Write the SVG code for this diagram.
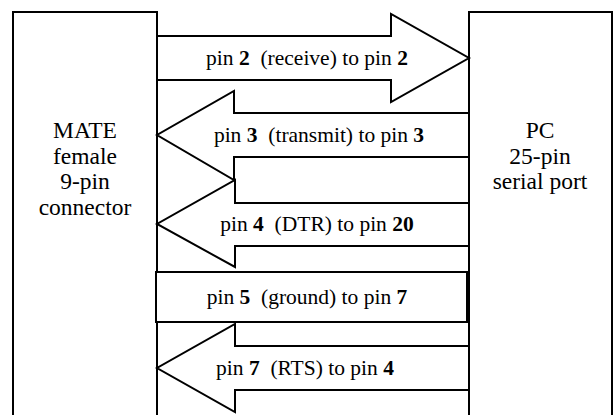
<svg xmlns="http://www.w3.org/2000/svg" width="613" height="415" viewBox="0 0 613 415">
<style>
.box{fill:#fff;stroke:#000;stroke-width:2}
.arr{fill:#fff;stroke:#000;stroke-width:2;stroke-linejoin:miter}
text{fill:#000;text-anchor:middle;font-family:'Liberation Serif','Times New Roman',serif}
.node{font-size:23.5px}
.lbl{font-size:21.5px}
.b{font-weight:bold}
</style>
<rect width="613" height="415" fill="#fff"/>
<g id="mate">
<rect class="box" x="13" y="12" width="144" height="420"/>
<text class="node" x="85" y="138">MATE</text>
<text class="node" x="85" y="163.5">female</text>
<text class="node" x="85" y="189">9-pin</text>
<text class="node" x="85" y="214.5">connector</text>
</g>
<g id="pc">
<rect class="box" x="469" y="12" width="143" height="420"/>
<text class="node" x="540" y="138">PC</text>
<text class="node" x="540" y="163.5">25-pin</text>
<text class="node" x="540" y="189">serial port</text>
</g>
<g id="connectors">
<g id="pin2">
<path class="arr" d="M157,36 H391 V14 L469,58 L391,102 V80 H157 Z"/>
<text class="lbl" x="307" y="65" xml:space="preserve">pin <tspan class="b">2</tspan>  (receive) to pin <tspan class="b">2</tspan></text>
</g>
<g id="pin3">
<path class="arr" d="M469,113 H234 V91 L157,135 L234,180 V157 H469 Z"/>
<text class="lbl" x="319" y="142" xml:space="preserve">pin <tspan class="b">3</tspan>  (transmit) to pin <tspan class="b">3</tspan></text>
</g>
<g id="pin4">
<path class="arr" d="M469,203 H235 V180 L157,224 L235,267 V246 H469 Z"/>
<text class="lbl" x="317" y="231" xml:space="preserve">pin <tspan class="b">4</tspan>  (DTR) to pin <tspan class="b">20</tspan></text>
</g>
<g id="pin5">
<rect class="arr" x="156" y="272" width="311" height="50"/>
<text class="lbl" x="307" y="304" xml:space="preserve">pin <tspan class="b">5</tspan>  (ground) to pin <tspan class="b">7</tspan></text>
</g>
<g id="pin7">
<path class="arr" d="M469,346 H235 V324 L157,368 L235,412 V390 H469 Z"/>
<text class="lbl" x="305" y="375" xml:space="preserve">pin <tspan class="b">7</tspan>  (RTS) to pin <tspan class="b">4</tspan></text>
</g>
</g>
</svg>
